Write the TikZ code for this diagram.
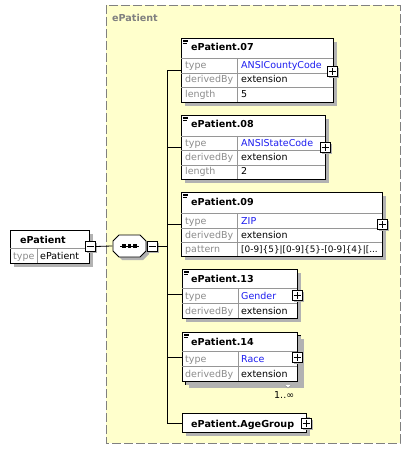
\documentclass[tikz,border=0pt]{standalone}
\usepackage{fontspec}
\setmainfont{DejaVu Sans}
\usetikzlibrary{shadows}
\definecolor{bgyellow}{RGB}{255,255,204}
\definecolor{typeblue}{RGB}{30,30,240}
\definecolor{lblgray}{RGB}{140,140,140}
\definecolor{gridgray}{RGB}{150,150,150}
\definecolor{shadgray}{RGB}{178,178,178}
\tikzset{
  ebox/.style={draw=black, fill=white, line width=0.8pt, inner sep=0pt, anchor=north west,
    drop shadow={shadow xshift=4pt, shadow yshift=-4pt, fill=shadgray, opacity=1}},
  hdr/.style={font=\fontsize{9.6}{11}\selectfont\bfseries, inner sep=0pt, anchor=base west},
  lbl/.style={font=\fontsize{9.5}{11}\selectfont, text=lblgray, inner sep=0pt, anchor=base west},
  val/.style={font=\fontsize{9.5}{11}\selectfont, text=black, inner sep=0pt, anchor=base west},
  tval/.style={val, text=typeblue},
  gridline/.style={draw=gridgray, line width=0.6pt},
  pm/.style={draw=black, fill=white, minimum size=10pt, inner sep=0pt, line width=0.8pt,
    drop shadow={shadow xshift=1.5pt, shadow yshift=-1.5pt, fill=shadgray, opacity=1}},
  conn/.style={draw=black, line width=0.8pt},
}
\newcommand\plusmark[1]{\draw[line width=0.8pt] (#1.center) +(-3.5,0) -- +(3.5,0) (#1.center) +(0,-3.5) -- +(0,3.5);}
\newcommand\minusmark[1]{\draw[line width=0.8pt] (#1.center) +(-3.5,0) -- +(3.5,0);}
\newcommand\hdricon[2]{\draw[line width=0.5pt] (#1+2,#2+2) -- (#1+7,#2+2) (#1+2,#2+3.5) -- (#1+7,#2+3.5) (#1+2,#2+5) -- (#1+6,#2+5);}
\begin{document}
\begin{tikzpicture}[x=1pt,y=-1pt]
\useasboundingbox (0,0) rectangle (411,454);
\fill[white] (0,0) rectangle (411,454);
% group box
\draw[fill=bgyellow, draw=black!50, line width=0.8pt, dash pattern=on 9pt off 3pt] (106,5) rectangle (400,443);
\node[font=\fontsize{9.6}{11}\selectfont\bfseries, text=black!50, inner sep=0pt, anchor=base west] (grp) at (112,22) {ePatient};

% root
\node[ebox, minimum width=79pt, minimum height=33pt] (root) at (10,230) {};
\draw[gridline] (10,248) -- (89,248) (37,248) -- (37,263);
\node[hdr] (rootn) at (20,243) {ePatient};
\node[lbl] (rootl) at (13,259) {type};
\node[val] (rootv) at (40,259) {ePatient};
\node[pm] (rm) at (90,246.5) {};
\minusmark{rm}

% sequence
\node[minimum width=34pt, minimum height=21pt, inner sep=0pt] (seq) at (129.5,246) {};
\fill[shadgray] (116,244) -- (122,238) -- (143,238) -- (149,244) -- (149,254) -- (143,260) -- (122,260) -- (116,254) -- cycle;
\draw[fill=white, line width=0.8pt] (113,241) -- (119,235) -- (140,235) -- (146,241) -- (146,251) -- (140,257) -- (119,257) -- (113,251) -- cycle;
\draw[line width=0.8pt] (120,246) -- (139,246);
\foreach \dx in {124,129.5,135} \fill (\dx-1.6,244.4) rectangle (\dx+1.6,247.6);
\node[pm] (sm) at (152,246.5) {};
\minusmark{sm}
\draw[conn] (rm.east) -- (seq.west);

\coordinate (bus) at (167,0);

% ePatient.07
\node[ebox, minimum width=152pt, minimum height=64pt] (e07) at (181,38) {};
\draw[gridline] (181,58) -- (333,58) (181,73) -- (333,73) (181,87) -- (333,87) (237,58) -- (237,102);
\hdricon{181}{38}
\node[hdr] (e07n) at (191,51) {ePatient.07};
\node[lbl] (e07a) at (185,69) {type};
\node[tval] (e07b) at (241,69) {ANSICountyCode};
\node[lbl] (e07c) at (185,83) {derivedBy};
\node[val] (e07d) at (241,83) {extension};
\node[lbl] (e07e) at (185,98) {length};
\node[val] (e07f) at (241,98) {5};
\node[pm] (p07) at (332.5,71.5) {};
\plusmark{p07}

% ePatient.08
\node[ebox, minimum width=144pt, minimum height=64pt] (e08) at (181,115) {};
\draw[gridline] (181,136) -- (325,136) (181,150) -- (325,150) (181,165) -- (325,165) (237,136) -- (237,179);
\hdricon{181}{115}
\node[hdr] (e08n) at (191,128) {ePatient.08};
\node[lbl] (e08a) at (185,147) {type};
\node[tval] (e08b) at (241,147) {ANSIStateCode};
\node[lbl] (e08c) at (185,161) {derivedBy};
\node[val] (e08d) at (241,161) {extension};
\node[lbl] (e08e) at (185,175) {length};
\node[val] (e08f) at (241,175) {2};
\node[pm] (p08) at (325,147.5) {};
\plusmark{p08}

% ePatient.09
\node[ebox, minimum width=201pt, minimum height=64pt] (e09) at (181,192) {};
\draw[gridline] (181,213) -- (382,213) (181,228) -- (382,228) (181,242) -- (382,242) (237,213) -- (237,256);
\hdricon{181}{192}
\node[hdr] (e09n) at (191,205) {ePatient.09};
\node[lbl] (e09a) at (185,224) {type};
\node[tval] (e09b) at (241,224) {ZIP};
\node[lbl] (e09c) at (185,238) {derivedBy};
\node[val] (e09d) at (241,238) {extension};
\node[lbl] (e09e) at (185,252) {pattern};
\node[val, font=\fontsize{8.9}{11}\selectfont] (e09f) at (241,252) {[0-9]\{5\}|[0-9]\{5\}-[0-9]\{4\}|[...};
\node[pm] (p09) at (382,224.5) {};
\plusmark{p09}

% ePatient.13
\node[ebox, minimum width=115pt, minimum height=49pt] (e13) at (182,269) {};
\draw[gridline] (182,288) -- (297,288) (182,303) -- (297,303) (238,288) -- (238,318);
\hdricon{182}{269}
\node[hdr] (e13n) at (191,282) {ePatient.13};
\node[lbl] (e13a) at (185,299) {type};
\node[tval] (e13b) at (241,299) {Gender};
\node[lbl] (e13c) at (185,314) {derivedBy};
\node[val] (e13d) at (241,314) {extension};
\node[pm] (p13) at (297,295.5) {};
\plusmark{p13}

% ePatient.14 (stacked)
\node[ebox, minimum width=115pt, minimum height=49pt] (e14b) at (185,335) {};
\draw[fill=white, draw=gridgray, line width=0.6pt] (283,383.5) -- (293,383.5) -- (288,388) -- cycle;
\node[ebox, drop shadow={shadow xshift=0pt, shadow yshift=0pt, opacity=0}, minimum width=115pt, minimum height=49pt] (e14) at (182,332) {};
\draw[gridline] (182,351) -- (297,351) (182,366) -- (297,366) (238,351) -- (238,381);
\hdricon{182}{332}
\node[hdr] (e14n) at (191,345) {ePatient.14};
\node[lbl] (e14a) at (185,362) {type};
\node[tval] (e14b2) at (241,362) {Race};
\node[lbl] (e14c) at (185,377) {derivedBy};
\node[val] (e14d) at (241,377) {extension};
\node[pm] (p14) at (297,357) {};
\plusmark{p14}
\node[val] (card) at (274,398) {1..∞};

% ePatient.AgeGroup
\node[ebox, minimum width=124pt, minimum height=19pt] (eage) at (182,413) {};
\node[hdr] (eagen) at (191,427) {ePatient.AgeGroup};
\node[pm] (page) at (306,423) {};
\plusmark{page}

% connectors
\draw[conn] (sm.east) -- (sm.east -| bus);
\draw[conn] (e07.west -| bus) -- (eage.west -| bus);
\foreach \n in {e07,e08,e09,e13,e14,eage} \draw[conn] (\n.west -| bus) -- (\n.west);
\end{tikzpicture}
\end{document}
